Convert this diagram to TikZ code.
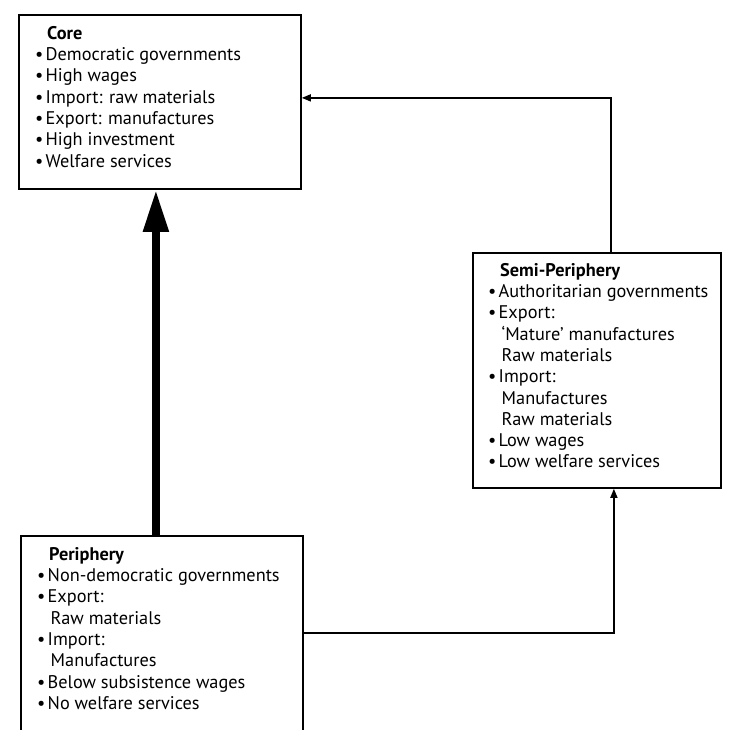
\documentclass[tikz,border=0pt]{standalone}
\usepackage{fontspec}
\setmainfont{PT Sans}
\usetikzlibrary{arrows.meta,calc}
\newcommand\itm{\makebox[10.5pt][l]{\textbullet}}
\newcommand\ttl[1]{\hspace*{12pt}\textbf{#1}}
\newcommand\sbi{\hspace*{13.5pt}}
\begin{document}
\begin{tikzpicture}[x=1pt,y=-1pt,
  box/.style={draw=black,line width=1.8pt,rectangle,inner sep=0pt,anchor=north west},
  txt/.style={anchor=north west,inner sep=0pt,align=left,font=\fontsize{18.3}{21.3}\selectfont},
  conn/.style={line width=1.5pt,-{Triangle[width=7pt,length=9pt]}},
  bigarrow/.style={line width=8pt,-{Triangle[width=24pt,length=42pt]}}]
\useasboundingbox (0,0) rectangle (737,730);
\fill[white] (0,0) rectangle (737,730);
% boxes
\node[box,minimum width=282pt,minimum height=174pt] (core) at (18,14) {};
\node[box,minimum width=248pt,minimum height=235pt] (semi) at (472,252) {};
\node[box,minimum width=282pt,minimum height=230pt] (peri) at (20,535) {};
% texts
\node[txt] (coretxt) at (35,26) {\ttl{Core}\\
\itm Democratic governments\\
\itm High wages\\
\itm Import: raw materials\\
\itm Export: manufactures\\
\itm High investment\\
\itm Welfare services};
\node[txt] (semitxt) at (488,263) {\ttl{Semi-Periphery}\\
\itm Authoritarian governments\\
\itm Export:\\
\sbi ‘Mature’ manufactures\\
\sbi Raw materials\\
\itm Import:\\
\sbi Manufactures\\
\sbi Raw materials\\
\itm Low wages\\
\itm Low welfare services};
\node[txt] (peritxt) at (37,547) {\ttl{Periphery}\\
\itm Non-democratic governments\\
\itm Export:\\
\sbi Raw materials\\
\itm Import:\\
\sbi Manufactures\\
\itm Below subsistence wages\\
\itm No welfare services};
% connectors
\draw[bigarrow] ([xshift=-6pt]peri.north) -- ([xshift=-6pt]peri.north |- core.south);
\draw[conn] ([xshift=14pt]semi.north) |- ([yshift=4pt]core.east);
\draw[conn] ([yshift=18pt]peri.east) -| ([xshift=17pt]semi.south);
\end{tikzpicture}
\end{document}
